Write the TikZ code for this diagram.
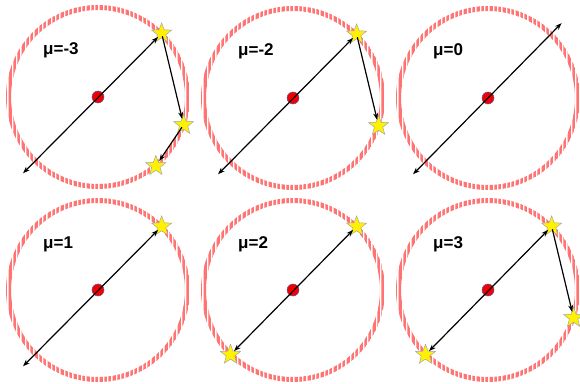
\documentclass[tikz,border=0pt]{standalone}
\usepackage{fontspec}
\setmainfont{Liberation Sans}
\usetikzlibrary{shapes.geometric,arrows.meta,patterns.meta}
\tikzset{
  ringfill/.style={pattern={Lines[angle=90,distance=1.3pt,line width=0.55pt]},pattern color=red!55},
  centerdot/.style={circle,fill=red!95!black,draw=blue!30!gray,line width=0.5pt,minimum size=12pt,inner sep=0pt},
  mulabel/.style={anchor=base west,font=\fontsize{17}{17}\selectfont\bfseries,inner sep=0pt},
  starnode/.style={star,star points=5,star point ratio=2.4,fill=yellow,draw=gray!70,line width=0.5pt,minimum size=21pt,inner sep=0pt},
  conn/.style={line width=1.2pt,-{Stealth[length=7pt,width=5pt]}},
  dconn/.style={line width=1.2pt,{Stealth[length=7pt,width=5pt]}-{Stealth[length=7pt,width=5pt]}}
}
\newcommand{\ringpanel}[4]{%
  \fill[ringfill,even odd rule] (#2,#3) circle[radius=92pt] (#2,#3) circle[radius=87pt];
  \node[centerdot] (#1c) at (#2,#3) {};
  \path (#2,#3) ++(-55pt,42pt) node[mulabel] (#1l) {#4};
}
\begin{document}
\begin{tikzpicture}[x=1pt,y=1pt]
\fill[white] (0,0) rectangle (580,383);
\useasboundingbox (0,0) rectangle (580,383);
% panel A: mu=-3
\ringpanel{A}{98}{286}{μ=-3}
\path (98,286) ++(45:90pt) node[starnode] (As1) {};
\path (98,286) ++(-18:90pt) node[starnode] (As2) {};
\path (98,286) ++(-50:90pt) node[starnode] (As3) {};
\path (98,286) ++(225.5:107pt) coordinate (Ao);
\draw[dconn,shorten >=5pt] (Ao) -- (As1.center);
\draw[conn,shorten <=3pt,shorten >=6pt] (As1.center) -- (As2.center);
\draw[conn,shorten <=3pt,shorten >=6pt] (As2.center) -- (As3.center);
% panel B: mu=-2
\ringpanel{B}{293}{285}{μ=-2}
\path (293,285) ++(45:90pt) node[starnode] (Bs1) {};
\path (293,285) ++(-18:90pt) node[starnode] (Bs2) {};
\path (293,285) ++(225.5:107pt) coordinate (Bo);
\draw[dconn,shorten >=5pt] (Bo) -- (Bs1.center);
\draw[conn,shorten <=3pt,shorten >=6pt] (Bs1.center) -- (Bs2.center);
% panel C: mu=0
\ringpanel{C}{488}{285}{μ=0}
\path (488,285) ++(225.5:107pt) coordinate (Co1);
\path (488,285) ++(45.5:105pt) coordinate (Co2);
\draw[dconn] (Co1) -- (Co2);
% panel D: mu=1
\ringpanel{D}{98}{93}{μ=1}
\path (98,93) ++(45:90pt) node[starnode] (Ds1) {};
\path (98,93) ++(225.5:107pt) coordinate (Do);
\draw[dconn,shorten >=5pt] (Do) -- (Ds1.center);
% panel E: mu=2
\ringpanel{E}{293}{93}{μ=2}
\path (293,93) ++(45:90pt) node[starnode] (Es1) {};
\path (293,93) ++(226:90pt) node[starnode] (Es2) {};
\draw[dconn,shorten >=5pt,shorten <=5pt] (Es2.center) -- (Es1.center);
% panel F: mu=3
\ringpanel{F}{488}{93}{μ=3}
\path (488,93) ++(45:90pt) node[starnode] (Fs1) {};
\path (488,93) ++(226:90pt) node[starnode] (Fs3) {};
\path (488,93) ++(-18:90pt) node[starnode] (Fs2) {};
\draw[dconn,shorten >=5pt,shorten <=5pt] (Fs3.center) -- (Fs1.center);
\draw[conn,shorten <=3pt,shorten >=6pt] (Fs1.center) -- (Fs2.center);
\end{tikzpicture}
\end{document}
